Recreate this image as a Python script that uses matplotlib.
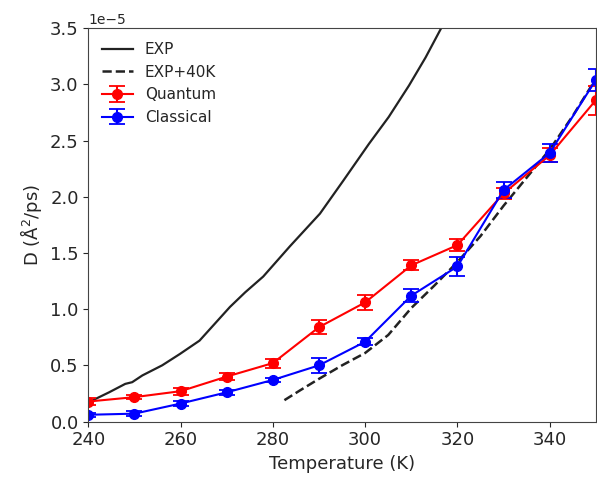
import numpy as np
import matplotlib
matplotlib.use("Agg")
import matplotlib.pyplot as plt

# experimental curve
exp_T = [240, 244.5, 248, 249.5, 251.7, 256, 259.8, 264.1, 270.7, 274, 277.9, 283.7,
         290.2, 295.2, 300.8, 305.1, 309.5, 313.1, 316.6, 320]
exp_D = [0.17, 0.26, 0.335, 0.35, 0.41, 0.50, 0.60, 0.72, 1.02, 1.15, 1.29, 1.56,
         1.85, 2.14, 2.47, 2.71, 2.99, 3.24, 3.51, 3.80]

# experimental curve shifted by 40 K
exp40_T = [282.5, 286, 290, 295, 300, 305, 310, 315, 320, 325, 330, 335, 340, 345, 350]
exp40_D = [0.19, 0.28, 0.38, 0.50, 0.61, 0.77, 1.01, 1.21, 1.42, 1.65, 1.92, 2.17, 2.42, 2.72, 3.05]

# simulations
temps = [240, 250, 260, 270, 280, 290, 300, 310, 320, 330, 340, 350]
quantum = [0.178, 0.217, 0.27, 0.40, 0.52, 0.84, 1.06, 1.39, 1.57, 2.03, 2.37, 2.86]
quantum_err = [0.03, 0.02, 0.03, 0.03, 0.04, 0.06, 0.065, 0.045, 0.055, 0.05, 0.06, 0.13]
classical = [0.06, 0.07, 0.16, 0.26, 0.37, 0.50, 0.71, 1.12, 1.38, 2.06, 2.39, 3.04]
classical_err = [0.02, 0.02, 0.02, 0.02, 0.02, 0.067, 0.03, 0.055, 0.085, 0.07, 0.08, 0.10]

plt.rcParams['font.size'] = 13
plt.rcParams['text.color'] = '#262626'
plt.rcParams['axes.labelcolor'] = '#262626'
plt.rcParams['xtick.color'] = '#262626'
plt.rcParams['ytick.color'] = '#262626'

scale = 1e-5
fig, ax = plt.subplots(figsize=(5.97, 4.79), dpi=100)
fig.subplots_adjust(left=0.148, right=0.998, top=0.941, bottom=0.12)

ax.plot(exp_T, np.array(exp_D) * scale, color='#222222', lw=1.6, label='EXP')
ax.plot(exp40_T, np.array(exp40_D) * scale, color='#222222', lw=1.8, ls='--', label='EXP+40K')
ax.errorbar(temps, np.array(quantum) * scale, yerr=np.array(quantum_err) * scale,
            color='red', marker='o', ms=7, lw=1.5, capsize=6, capthick=1.3, label='Quantum')
ax.errorbar(temps, np.array(classical) * scale, yerr=np.array(classical_err) * scale,
            color='blue', marker='o', ms=7, lw=1.5, capsize=6, capthick=1.3, label='Classical')

ax.set_xlim(240, 350)
ax.set_ylim(0, 3.5e-5)
ax.set_xlabel('Temperature (K)')
ax.set_ylabel('D ($\\mathrm{\\AA}^2$/ps)')
ax.yaxis.get_offset_text().set_fontsize(10)
ax.legend(loc='upper left', frameon=False, fontsize=11)

for s in ax.spines.values():
    s.set_color('#444444')

fig.savefig('out.png', dpi=100)
